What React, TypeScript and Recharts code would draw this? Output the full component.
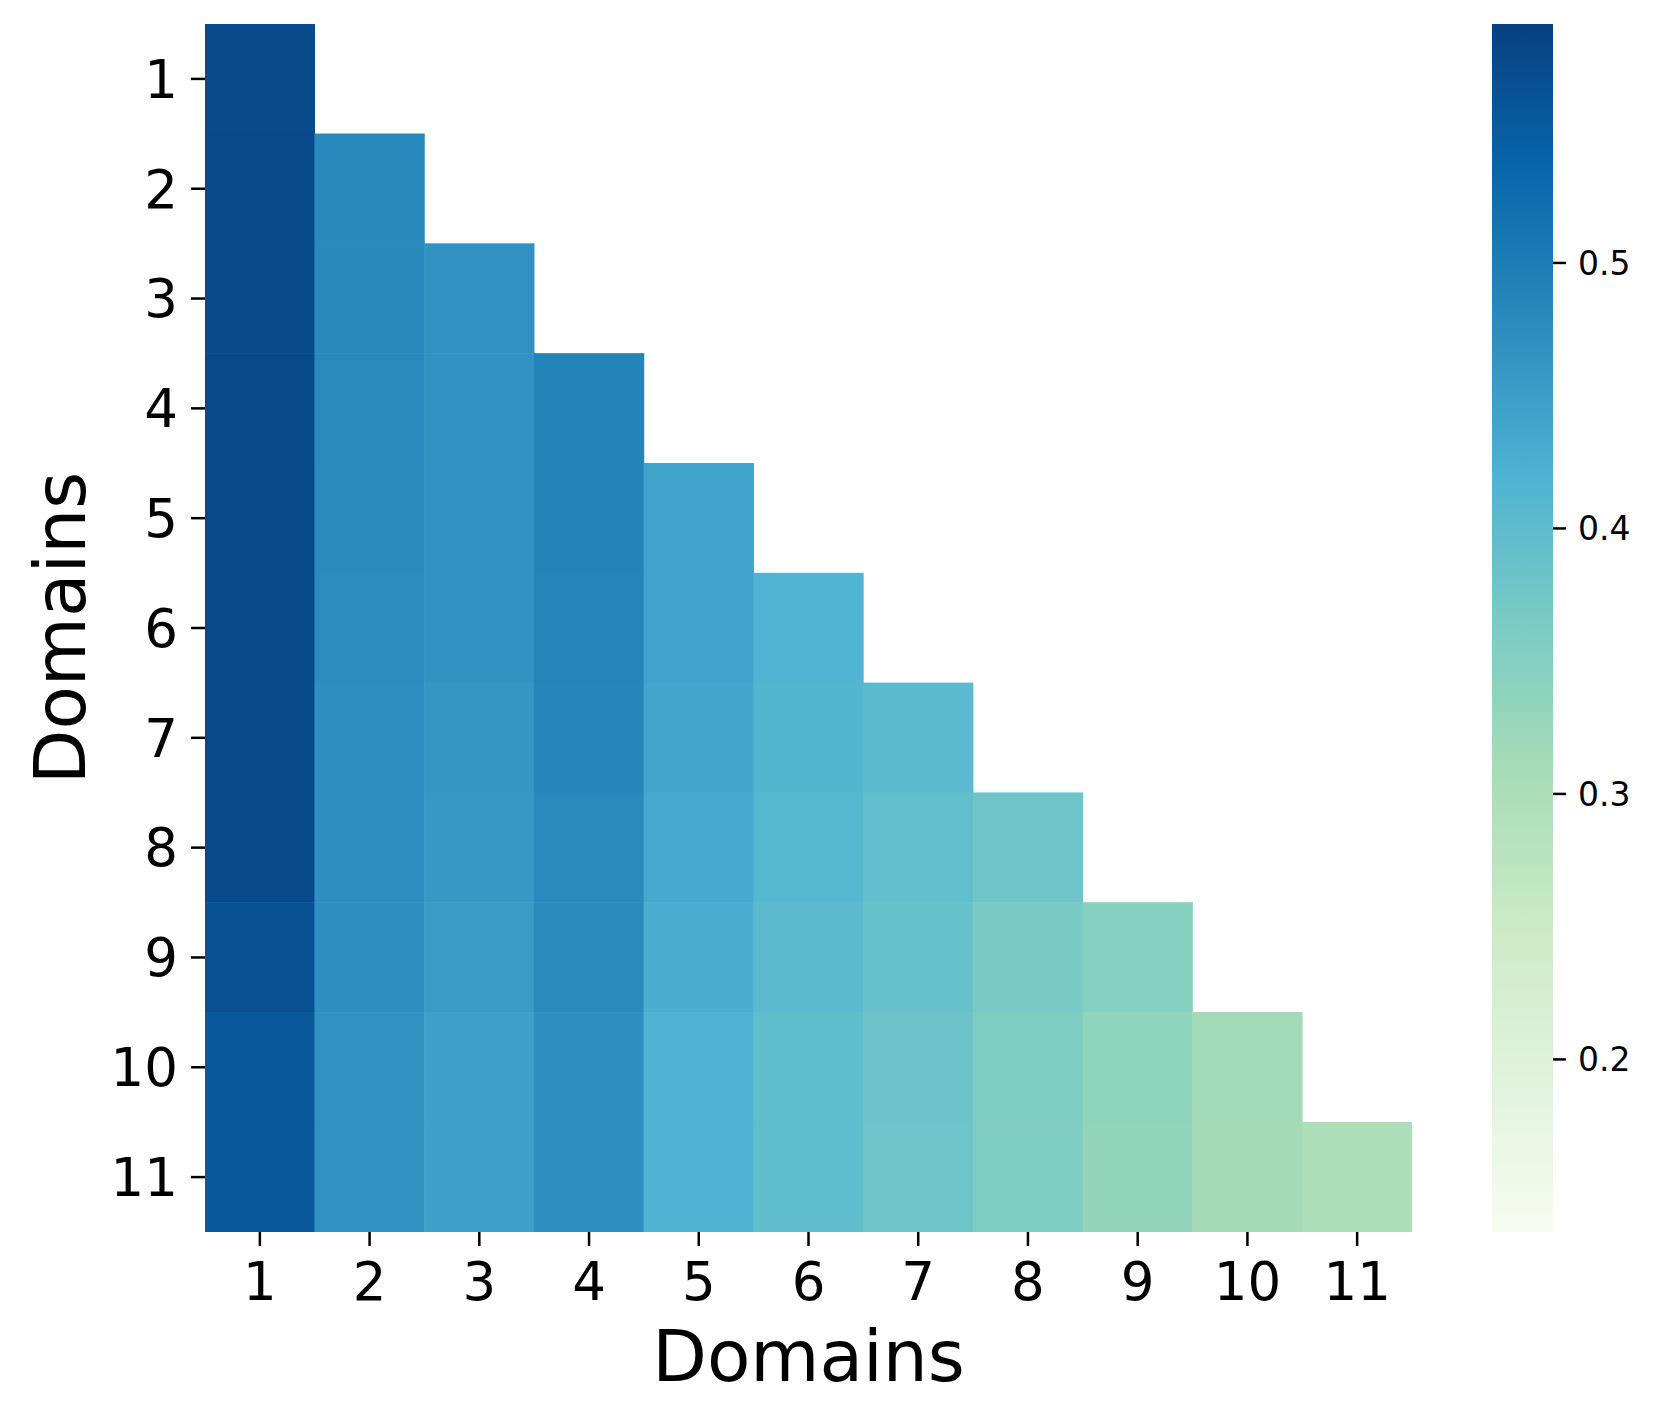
import React from "react";
import { ScatterChart, Scatter, XAxis, YAxis, BarChart, Bar, Label } from "recharts";

// ---- data ----
const domains = [1, 2, 3, 4, 5, 6, 7, 8, 9, 10, 11];
const row1 = [0.576];
const row2 = [0.577, 0.481];
const row3 = [0.577, 0.481, 0.467];
const row4 = [0.577, 0.480, 0.466, 0.489];
const row5 = [0.577, 0.478, 0.466, 0.489, 0.442];
const row6 = [0.577, 0.477, 0.466, 0.488, 0.442, 0.417];
const row7 = [0.577, 0.473, 0.462, 0.486, 0.437, 0.413, 0.403];
const row8 = [0.577, 0.473, 0.458, 0.479, 0.434, 0.409, 0.394, 0.379];
const row9 = [0.565, 0.472, 0.453, 0.478, 0.426, 0.403, 0.388, 0.366, 0.348];
const row10 = [0.556, 0.468, 0.447, 0.471, 0.419, 0.397, 0.382, 0.359, 0.337, 0.313];
const row11 = [0.556, 0.468, 0.447, 0.471, 0.419, 0.397, 0.380, 0.359, 0.332, 0.311, 0.299];
const rows = [row1, row2, row3, row4, row5, row6, row7, row8, row9, row10, row11];
const colorbarTicks = [0.2, 0.3, 0.4, 0.5];
const vmin = 0.135;
const vmax = 0.59;

// GnBu colormap
const GNBU = ["#f7fcf0", "#e0f3db", "#ccebc5", "#a8ddb5", "#7bccc4", "#4eb3d3", "#2b8cbe", "#0868ac", "#084081"];
const hexToRgb = (h: string) => [parseInt(h.slice(1, 3), 16), parseInt(h.slice(3, 5), 16), parseInt(h.slice(5, 7), 16)];
const colorFor = (v: number) => {
  let t = (v - vmin) / (vmax - vmin);
  t = Math.max(0, Math.min(1, t));
  const pos = t * (GNBU.length - 1);
  const i = Math.min(GNBU.length - 2, Math.floor(pos));
  const f = pos - i;
  const a = hexToRgb(GNBU[i]);
  const b = hexToRgb(GNBU[i + 1]);
  const c = a.map((x, k) => Math.round(x + (b[k] - x) * f));
  return `rgb(${c[0]},${c[1]},${c[2]})`;
};

const cells = rows.flatMap((r, i) => r.map((v, j) => ({ x: domains[j], y: domains[i], v })));

const FONT = "DejaVu Sans";
const W = 1500;
const H = 1421;
const M = { top: 24, right: 88, left: 0, bottom: 29 };
const YW = 205;
const XH = 160;
const plotW = W - M.left - M.right - YW;
const plotH = H - M.top - M.bottom - XH;
const cw = plotW / domains.length;
const ch = plotH / domains.length;

const CellShape = (props: any) => {
  const { cx, cy, payload } = props;
  return <rect x={cx - cw / 2 - 0.3} y={cy - ch / 2 - 0.3} width={cw + 0.6} height={ch + 0.6} fill={colorFor(payload.v)} />;
};

const tickStyle = { fill: "#000", fontSize: 53, fontFamily: FONT };
const tickLine = { stroke: "#000", strokeWidth: 2.5 };

export default function App() {
  return (
    <div style={{ position: "absolute", left: 0, top: 0, width: 1662, height: 1421, background: "#fff" }}>
      <div style={{ position: "absolute", left: 0, top: 0 }}>
        <ScatterChart width={W} height={H} margin={M}>
          <XAxis
            type="number"
            dataKey="x"
            domain={[0.5, 11.5]}
            allowDataOverflow
            ticks={domains}
            interval={0}
            height={XH}
            axisLine={false}
            tickLine={tickLine}
            tickSize={14}
            tickMargin={16}
            tick={tickStyle}
          >
            <Label
              content={(p: any) => {
                const vb = p.viewBox;
                return (
                  <text x={vb.x + vb.width / 2} y={vb.y + 149} textAnchor="middle" fontSize={71} fontFamily={FONT} fill="#000">
                    Domains
                  </text>
                );
              }}
            />
          </XAxis>
          <YAxis
            type="number"
            dataKey="y"
            domain={[0.5, 11.5]}
            allowDataOverflow
            reversed
            ticks={domains}
            interval={0}
            width={YW}
            axisLine={false}
            tickLine={tickLine}
            tickSize={14}
            tickMargin={13}
            tick={tickStyle}
          >
            <Label
              content={(p: any) => {
                const vb = p.viewBox;
                const cy = vb.y + vb.height / 2;
                return (
                  <text x={85} y={cy} transform={`rotate(-90, 85, ${cy})`} textAnchor="middle" fontSize={71} fontFamily={FONT} fill="#000">
                    Domains
                  </text>
                );
              }}
            />
          </YAxis>
          <Scatter data={cells} shape={CellShape} isAnimationActive={false} />
        </ScatterChart>
      </div>
      <div style={{ position: "absolute", left: 1492, top: 0 }}>
        <BarChart width={170} height={H} data={[{ name: "cb", range: [vmin, vmax] }]} margin={{ top: 24, bottom: 189, left: 0, right: 0 }} barCategoryGap={0} barGap={0}>
          <defs>
            <linearGradient id="gnbu" x1="0" y1="1" x2="0" y2="0">
              {GNBU.map((c, i) => (
                <stop key={i} offset={i / (GNBU.length - 1)} stopColor={c} />
              ))}
            </linearGradient>
          </defs>
          <XAxis dataKey="name" hide />
          <YAxis
            orientation="right"
            type="number"
            domain={[vmin, vmax]}
            allowDataOverflow
            ticks={colorbarTicks}
            interval={0}
            width={109}
            axisLine={false}
            tickLine={tickLine}
            tickSize={13}
            tickMargin={12}
            tick={{ fill: "#000", fontSize: 33, fontFamily: FONT }}
            tickFormatter={(v: number) => v.toFixed(1)}
          />
          <Bar dataKey="range" fill="url(#gnbu)" isAnimationActive={false} />
        </BarChart>
      </div>
    </div>
  );
}
